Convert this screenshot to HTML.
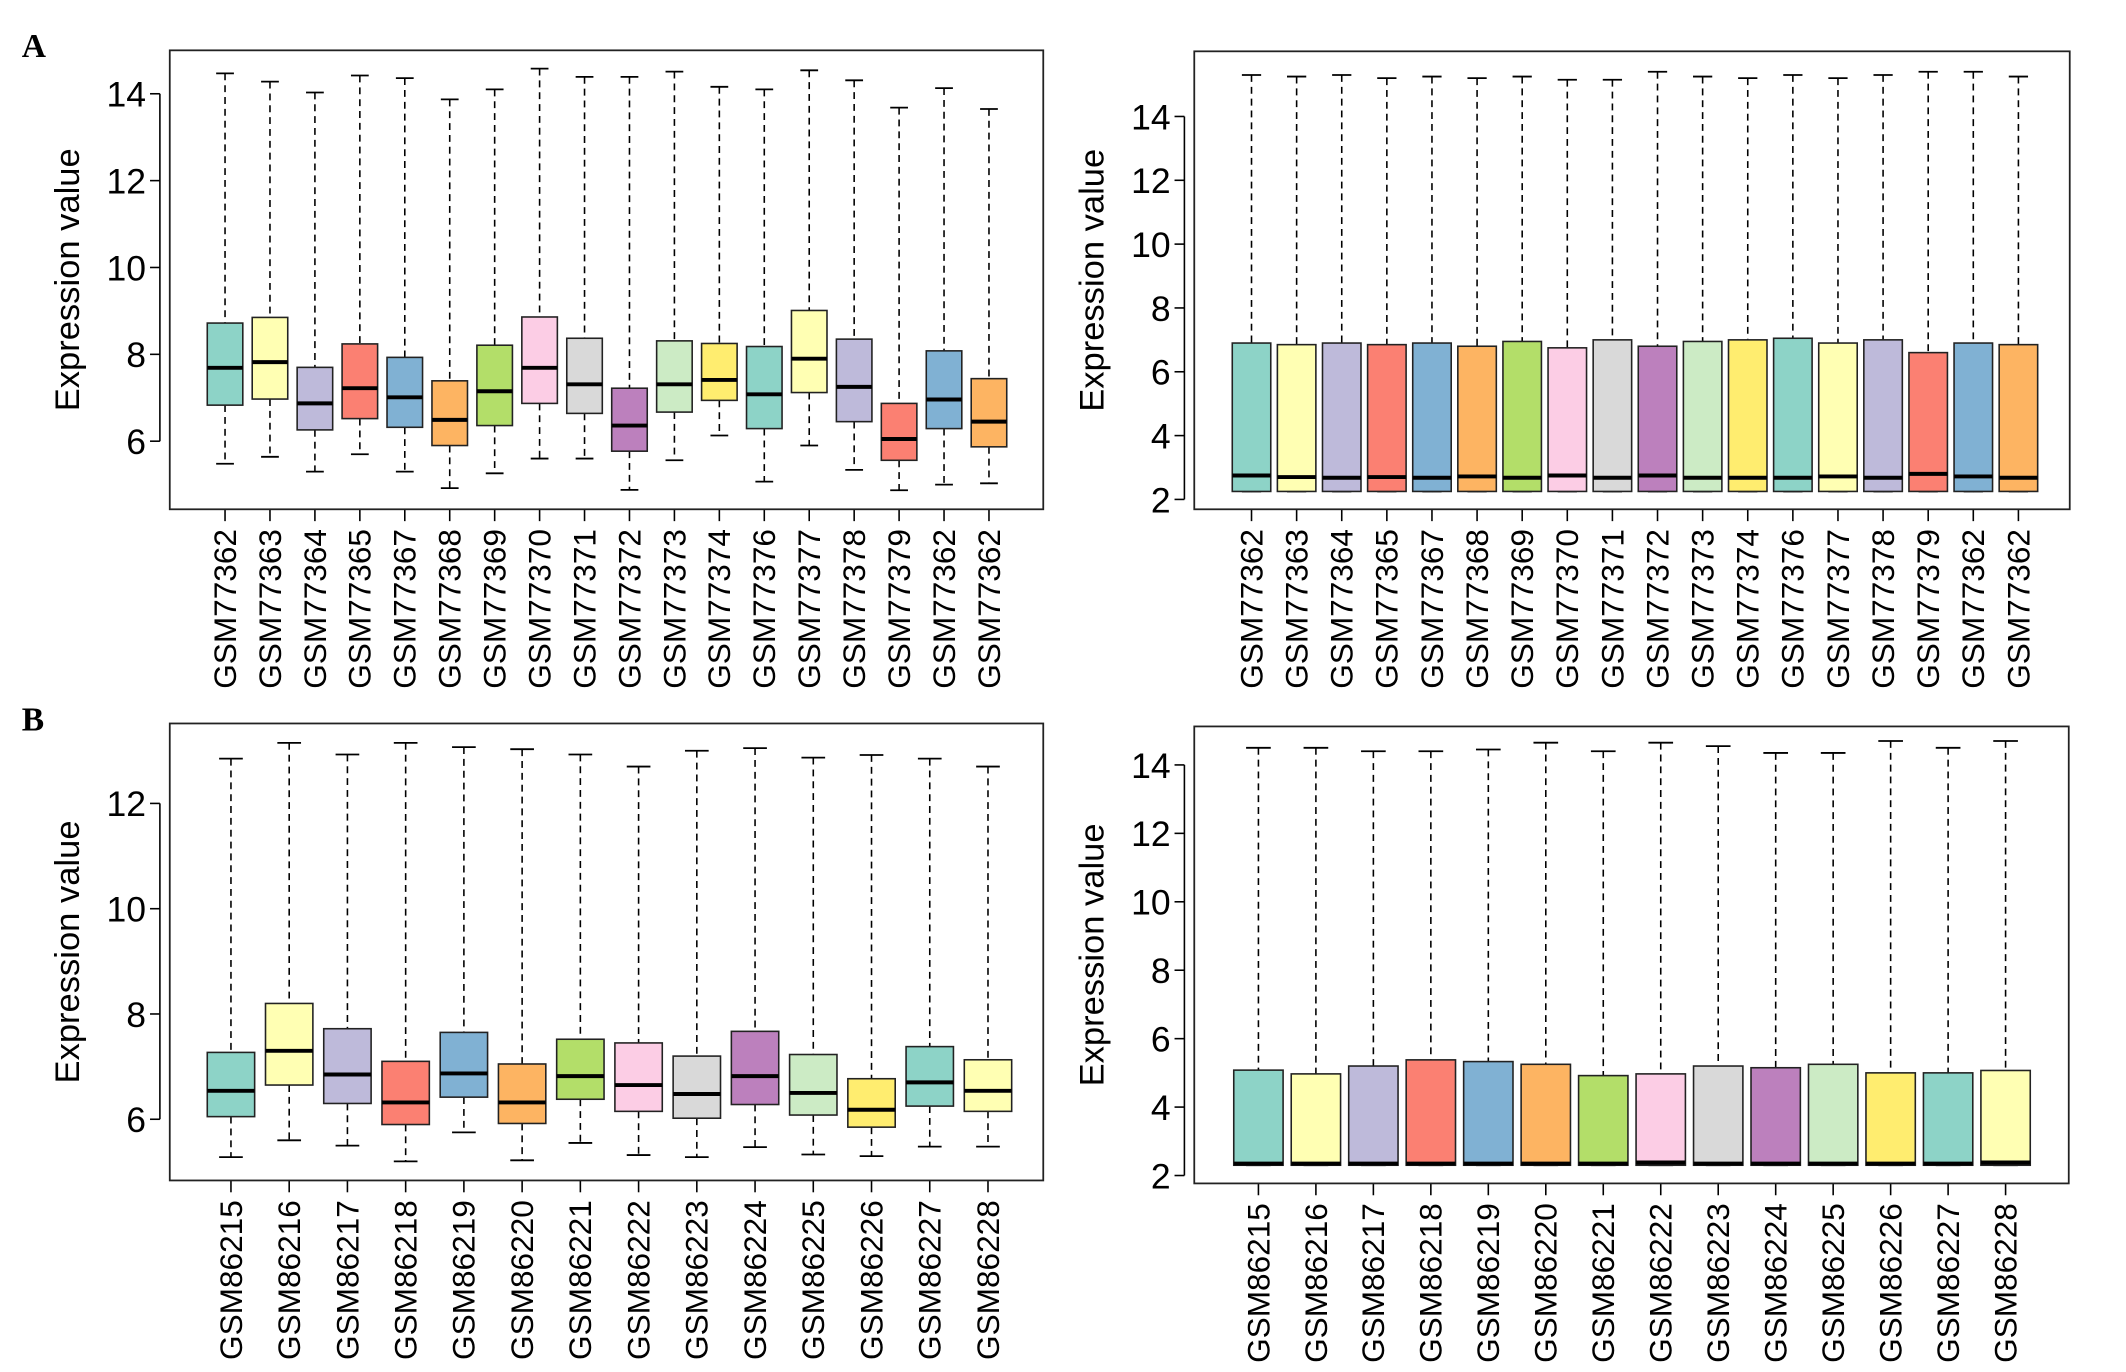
<!DOCTYPE html>
<html><head><meta charset="utf-8"><style>
body{margin:0;background:#fff;}
svg{display:block;font-family:"Liberation Sans",sans-serif;}
</style></head><body>
<svg width="2126" height="1372" viewBox="0 0 2126 1372">
<g id="fig" transform="scale(0.987)">
<text x="22" y="58" font-family="Liberation Serif" font-weight="bold" font-size="34">A</text>
<text x="22" y="740" font-family="Liberation Serif" font-weight="bold" font-size="34">B</text>
</g>
</svg>
<script>
const colors=["#8DD3C7","#FFFFB3","#BEBADA","#FB8072","#80B1D3","#FDB462","#B3DE69","#FCCDE5","#D9D9D9","#BC80BD","#CCEBC5","#FFED6F"];
const catsA=["GSM77362","GSM77363","GSM77364","GSM77365","GSM77367","GSM77368","GSM77369","GSM77370","GSM77371","GSM77372","GSM77373","GSM77374","GSM77376","GSM77377","GSM77378","GSM77379","GSM77362","GSM77362"];
const catsB=["GSM86215","GSM86216","GSM86217","GSM86218","GSM86219","GSM86220","GSM86221","GSM86222","GSM86223","GSM86224","GSM86225","GSM86226","GSM86227","GSM86228"];
// panel A left
const a1Low=[5.48,5.64,5.3,5.7,5.3,4.92,5.26,5.6,5.6,4.88,5.56,6.13,5.07,5.9,5.34,4.87,5.0,5.03];
const a1Q1=[6.83,6.97,6.26,6.52,6.32,5.9,6.36,6.87,6.64,5.77,6.67,6.94,6.29,7.12,6.45,5.56,6.29,5.87];
const a1Med=[7.69,7.82,6.87,7.22,7.01,6.49,7.15,7.69,7.31,6.36,7.31,7.41,7.08,7.9,7.25,6.05,6.96,6.45];
const a1Q3=[8.72,8.85,7.7,8.24,7.93,7.39,8.21,8.86,8.37,7.22,8.31,8.25,8.18,9.01,8.35,6.87,8.08,7.44];
const a1High=[14.47,14.28,14.03,14.42,14.36,13.87,14.1,14.58,14.39,14.39,14.51,14.16,14.1,14.54,14.31,13.68,14.13,13.65];
const a1Ticks=[6,8,10,12,14];
// panel A right
const a2Low=[2.25,2.25,2.25,2.25,2.25,2.25,2.25,2.25,2.25,2.25,2.25,2.25,2.25,2.25,2.25,2.25,2.25,2.25];
const a2Q1=[2.25,2.25,2.25,2.25,2.25,2.25,2.25,2.25,2.25,2.25,2.25,2.25,2.25,2.25,2.25,2.25,2.25,2.25];
const a2Med=[2.75,2.7,2.68,2.7,2.68,2.72,2.68,2.75,2.68,2.75,2.68,2.68,2.68,2.72,2.68,2.8,2.72,2.68];
const a2Q3=[6.9,6.85,6.9,6.85,6.9,6.8,6.95,6.75,7.0,6.8,6.95,7.0,7.05,6.9,7.0,6.6,6.9,6.85];
const a2High=[15.3,15.25,15.3,15.2,15.25,15.2,15.25,15.15,15.15,15.4,15.25,15.2,15.3,15.2,15.3,15.4,15.4,15.25];
const a2Ticks=[2,4,6,8,10,12,14];
// panel B left
const b1Low=[5.28,5.6,5.5,5.2,5.75,5.22,5.55,5.32,5.28,5.47,5.33,5.3,5.48,5.48];
const b1Q1=[6.05,6.65,6.3,5.9,6.42,5.92,6.38,6.15,6.02,6.28,6.08,5.85,6.25,6.15];
const b1Med=[6.54,7.3,6.85,6.32,6.87,6.32,6.82,6.65,6.48,6.82,6.5,6.18,6.7,6.54];
const b1Q3=[7.27,8.2,7.72,7.1,7.65,7.05,7.52,7.45,7.2,7.67,7.23,6.77,7.38,7.13];
const b1High=[12.85,13.15,12.93,13.15,13.07,13.03,12.93,12.7,13.0,13.05,12.87,12.92,12.85,12.7];
const b1Ticks=[6,8,10,12];
// panel B right
const b2Low=[2.3,2.3,2.3,2.3,2.3,2.3,2.3,2.3,2.3,2.3,2.3,2.3,2.3,2.3];
const b2Q1=[2.3,2.3,2.3,2.3,2.3,2.3,2.3,2.3,2.3,2.3,2.3,2.3,2.3,2.3];
const b2Med=[2.35,2.35,2.35,2.35,2.35,2.35,2.35,2.38,2.35,2.35,2.35,2.35,2.35,2.38];
const b2Q3=[5.08,4.97,5.2,5.38,5.33,5.25,4.92,4.97,5.2,5.15,5.25,5.0,5.0,5.07];
const b2High=[14.5,14.5,14.4,14.4,14.45,14.65,14.4,14.65,14.55,14.35,14.35,14.7,14.5,14.7];
const b2Ticks=[2,4,6,8,10,12,14];

const NS="http://www.w3.org/2000/svg";
const svg=document.getElementById('fig');
function mk(tag,attrs,parent){const e=document.createElementNS(NS,tag);for(const k in attrs)e.setAttribute(k,attrs[k]);(parent||svg).appendChild(e);return e;}

function panel(id,box,yMap,cats,low,q1,med,q3,high,ticks,x0,x1,bw){
  const g=mk('g',{});
  
  
  const [L,T,R,B]=box;
  const y=v=>yMap[1]+(v-yMap[0])*(yMap[3]-yMap[1])/(yMap[2]-yMap[0]);
  const n=cats.length;
  const x=i=>x0+i*(x1-x0)/(n-1);
  for(let i=0;i<n;i++){
    const cx=x(i);
    const bg=mk('g',{},g);
    
    
    mk('line',{x1:cx,x2:cx,y1:y(high[i]),y2:y(q3[i]),stroke:'#000','stroke-width':1.6,'stroke-dasharray':'7,5'},bg);
    mk('line',{x1:cx,x2:cx,y1:y(q1[i]),y2:y(low[i]),stroke:'#000','stroke-width':1.6,'stroke-dasharray':'7,5'},bg);
    mk('line',{x1:cx-bw/4,x2:cx+bw/4,y1:y(high[i]),y2:y(high[i]),stroke:'#000','stroke-width':1.8},bg);
    mk('line',{x1:cx-bw/4,x2:cx+bw/4,y1:y(low[i]),y2:y(low[i]),stroke:'#000','stroke-width':1.8},bg);
    mk('rect',{x:cx-bw/2,y:y(q3[i]),width:bw,height:y(q1[i])-y(q3[i]),fill:colors[i%12],stroke:'#222','stroke-width':1.6},bg);
    mk('line',{x1:cx-bw/2,x2:cx+bw/2,y1:y(med[i]),y2:y(med[i]),stroke:'#000','stroke-width':4},bg);
    mk('line',{x1:cx,x2:cx,y1:B,y2:B+12,stroke:'#000','stroke-width':1.6},g);
    const t=mk('text',{x:0,y:0,transform:`translate(${cx+11},${B+20}) rotate(-90)`,'text-anchor':'end','font-size':32,fill:'#000'},g);
    
    
    t.textContent=cats[i];
  }
  mk('line',{x1:L-10,x2:L-10,y1:y(ticks[0]),y2:y(ticks[ticks.length-1]),stroke:'#000','stroke-width':1.6},g);
  ticks.forEach(v=>{
    mk('line',{x1:L-20,x2:L-10,y1:y(v),y2:y(v),stroke:'#000','stroke-width':1.6},g);
    const t=mk('text',{x:L-24,y:y(v)+13,'text-anchor':'end','font-size':36,fill:'#000'},g);
    
    
    t.textContent=v;
  });
  mk('rect',{x:L,y:T,width:R-L,height:B-T,fill:'none',stroke:'#222','stroke-width':1.8},g);
  const yt=mk('text',{x:0,y:0,transform:`translate(${L-92},${(T+B)/2}) rotate(-90)`,'text-anchor':'middle','font-size':35,fill:'#000'},g);
  
  
  yt.textContent='Expression value';
}
panel('panel-a-left',[172,51,1057,516],[6,447,14,95],catsA,a1Low,a1Q1,a1Med,a1Q3,a1High,a1Ticks,228,1002,36);
panel('panel-a-right',[1210,52,2097,516],[2,506,14,118],catsA,a2Low,a2Q1,a2Med,a2Q3,a2High,a2Ticks,1268,2045,39);
panel('panel-b-left',[172,733,1057,1196],[6,1134,12,814],catsB,b1Low,b1Q1,b1Med,b1Q3,b1High,b1Ticks,234,1001,48);
panel('panel-b-right',[1210,736,2096,1199],[2,1191,14,775],catsB,b2Low,b2Q1,b2Med,b2Q3,b2High,b2Ticks,1275,2032,50);
</script>
</body></html>
